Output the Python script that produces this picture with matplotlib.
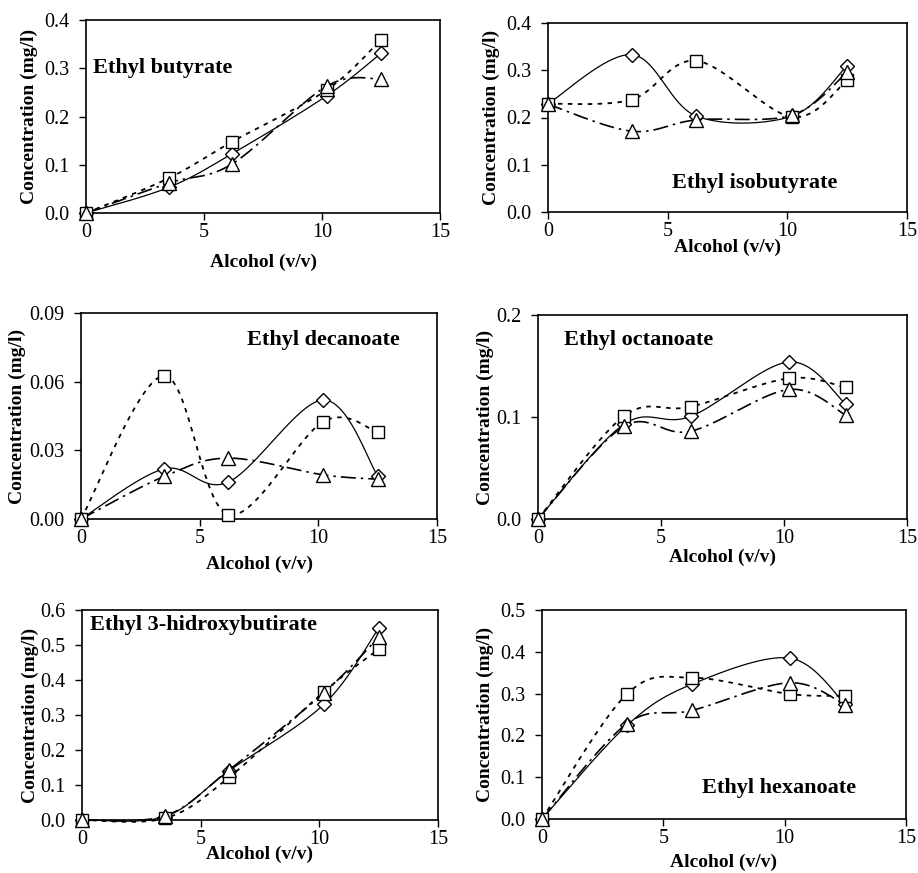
import numpy as np
import matplotlib
matplotlib.use("Agg")
import matplotlib.pyplot as plt

plt.rcParams['font.family'] = ['Liberation Serif', 'DejaVu Serif']

alcohol = [0, 3.5, 6.2, 10.2, 12.5]

titles = ["Ethyl butyrate", "Ethyl isobutyrate", "Ethyl decanoate",
          "Ethyl octanoate", "Ethyl 3-hidroxybutirate", "Ethyl hexanoate"]

# diamond series, square series, triangle series per compound
butyrate_d = [0.0, 0.053, 0.123, 0.243, 0.331]
butyrate_s = [0.0, 0.072, 0.148, 0.255, 0.359]
butyrate_t = [0.0, 0.062, 0.102, 0.263, 0.278]

isobutyrate_d = [0.229, 0.333, 0.203, 0.203, 0.310]
isobutyrate_s = [0.229, 0.238, 0.320, 0.201, 0.279]
isobutyrate_t = [0.228, 0.171, 0.195, 0.205, 0.296]

decanoate_d = [0.0, 0.0219, 0.0161, 0.0520, 0.0189]
decanoate_s = [0.0, 0.0626, 0.0019, 0.0425, 0.0379]
decanoate_t = [0.0, 0.0186, 0.0266, 0.0193, 0.0174]

octanoate_d = [0.0, 0.093, 0.1005, 0.154, 0.113]
octanoate_s = [0.0, 0.101, 0.110, 0.138, 0.129]
octanoate_t = [0.0, 0.091, 0.086, 0.127, 0.102]

hydroxy_d = [0.0, 0.010, 0.141, 0.331, 0.548]
hydroxy_s = [0.0, 0.005, 0.122, 0.367, 0.488]
hydroxy_t = [0.0, 0.012, 0.143, 0.364, 0.522]

hexanoate_d = [0.0, 0.224, 0.323, 0.385, 0.275]
hexanoate_s = [0.0, 0.299, 0.338, 0.299, 0.295]
hexanoate_t = [0.0, 0.228, 0.260, 0.326, 0.273]

series = [
    (butyrate_d, butyrate_s, butyrate_t),
    (isobutyrate_d, isobutyrate_s, isobutyrate_t),
    (decanoate_d, decanoate_s, decanoate_t),
    (octanoate_d, octanoate_s, octanoate_t),
    (hydroxy_d, hydroxy_s, hydroxy_t),
    (hexanoate_d, hexanoate_s, hexanoate_t),
]

yticks = [
    [0.0, 0.1, 0.2, 0.3, 0.4],
    [0.0, 0.1, 0.2, 0.3, 0.4],
    [0.0, 0.03, 0.06, 0.09],
    [0.0, 0.1, 0.2],
    [0.0, 0.1, 0.2, 0.3, 0.4, 0.5, 0.6],
    [0.0, 0.1, 0.2, 0.3, 0.4, 0.5],
]
yfmt = ["%.1f", "%.1f", "%.2f", "%.1f", "%.1f", "%.1f"]
xticks = [0, 5, 10, 15]

# layout in pixels: axes box (l, r, t, b), xlabel top y, ylabel right-edge x, title pos (data), ha
W, H = 918, 873
layout = [
    dict(box=(86, 440, 20, 213), xl=254, yl=38, tpos=(0.28, 0.30), ha='left'),
    dict(box=(548, 907, 23, 212), xl=239, yl=500, tpos=(8.65, 0.061), ha='center'),
    dict(box=(81, 437, 313, 519), xl=556, yl=26, tpos=(10.2, 0.078), ha='center'),
    dict(box=(538, 907, 315, 519), xl=549, yl=494, tpos=(1.06, 0.175), ha='left'),
    dict(box=(82, 438, 610, 820), xl=846, yl=39, tpos=(0.35, 0.557), ha='left'),
    dict(box=(542, 906, 610, 819), xl=854, yl=494, tpos=(6.6, 0.074), ha='left'),
]


def smooth(xs, ys, sx, sy, n=40):
    """Excel-like smoothed line (Catmull-Rom Bezier) through the points."""
    P = np.column_stack([np.asarray(xs, float) / sx, np.asarray(ys, float) / sy])
    m = len(P)
    out = []
    for i in range(m - 1):
        p0 = P[max(i - 1, 0)]
        p1 = P[i]
        p2 = P[i + 1]
        p3 = P[min(i + 2, m - 1)]
        c1 = p1 + (p2 - p0) / 6.0
        c2 = p2 - (p3 - p1) / 6.0
        t = np.linspace(0, 1, n)[:, None]
        seg = ((1 - t) ** 3) * p1 + 3 * ((1 - t) ** 2) * t * c1 + 3 * (1 - t) * t ** 2 * c2 + t ** 3 * p2
        out.append(seg if i == 0 else seg[1:])
    out = np.vstack(out)
    return out[:, 0] * sx, out[:, 1] * sy


fig = plt.figure(figsize=(W / 100, H / 100), dpi=100)

styles = [
    dict(marker='D', ms=7.5, ls='-', lw=0.9),
    dict(marker='s', ms=9, ls=(0, (2.5, 3)), lw=1.3),
    dict(marker='^', ms=10, ls=(0, (9, 3, 1.5, 3)), lw=1.2),
]

for k in range(6):
    L = layout[k]
    l, r, t, b = L['box']
    ax = fig.add_axes([l / W, 1 - b / H, (r - l) / W, (b - t) / H])
    ymax = yticks[k][-1]
    ax.set_xlim(0, 15)
    ax.set_ylim(0, ymax)
    for s, st in zip(series[k], styles):
        xs, ys = smooth(alcohol, s, 15.0, ymax)
        ax.plot(xs, ys, color='black', ls=st['ls'], lw=st['lw'], zorder=2, clip_on=False)
    for s, st in zip(series[k], styles):
        ax.plot(alcohol, s, ls='none', marker=st['marker'], ms=st['ms'],
                mfc='white', mec='black', mew=1.0, zorder=3, clip_on=False)
    ax.set_xticks(xticks)
    ax.set_yticks(yticks[k])
    ax.set_yticklabels([yfmt[k] % v for v in yticks[k]])
    ax.tick_params(direction='out', length=5, width=1, labelsize=14.5)
    ax.tick_params(axis='x', pad=2)
    ax.tick_params(axis='y', pad=7)
    for sp in ax.spines.values():
        sp.set_linewidth(1.2)
    ax.set_xlabel("Alcohol (v/v)", fontsize=14, fontweight='bold')
    ax.set_ylabel("Concentration (mg/l)", fontsize=14, fontweight='bold')
    ax.xaxis.set_label_coords(((l + r) / 2) / W, 1 - L['xl'] / H, transform=fig.transFigure)
    ax.yaxis.set_label_coords(L['yl'] / W, 1 - ((t + b) / 2) / H, transform=fig.transFigure)
    ax.text(L['tpos'][0], L['tpos'][1], titles[k], fontsize=16, fontweight='bold',
            ha=L['ha'], va='center')

fig.savefig("out.png", dpi=100)
